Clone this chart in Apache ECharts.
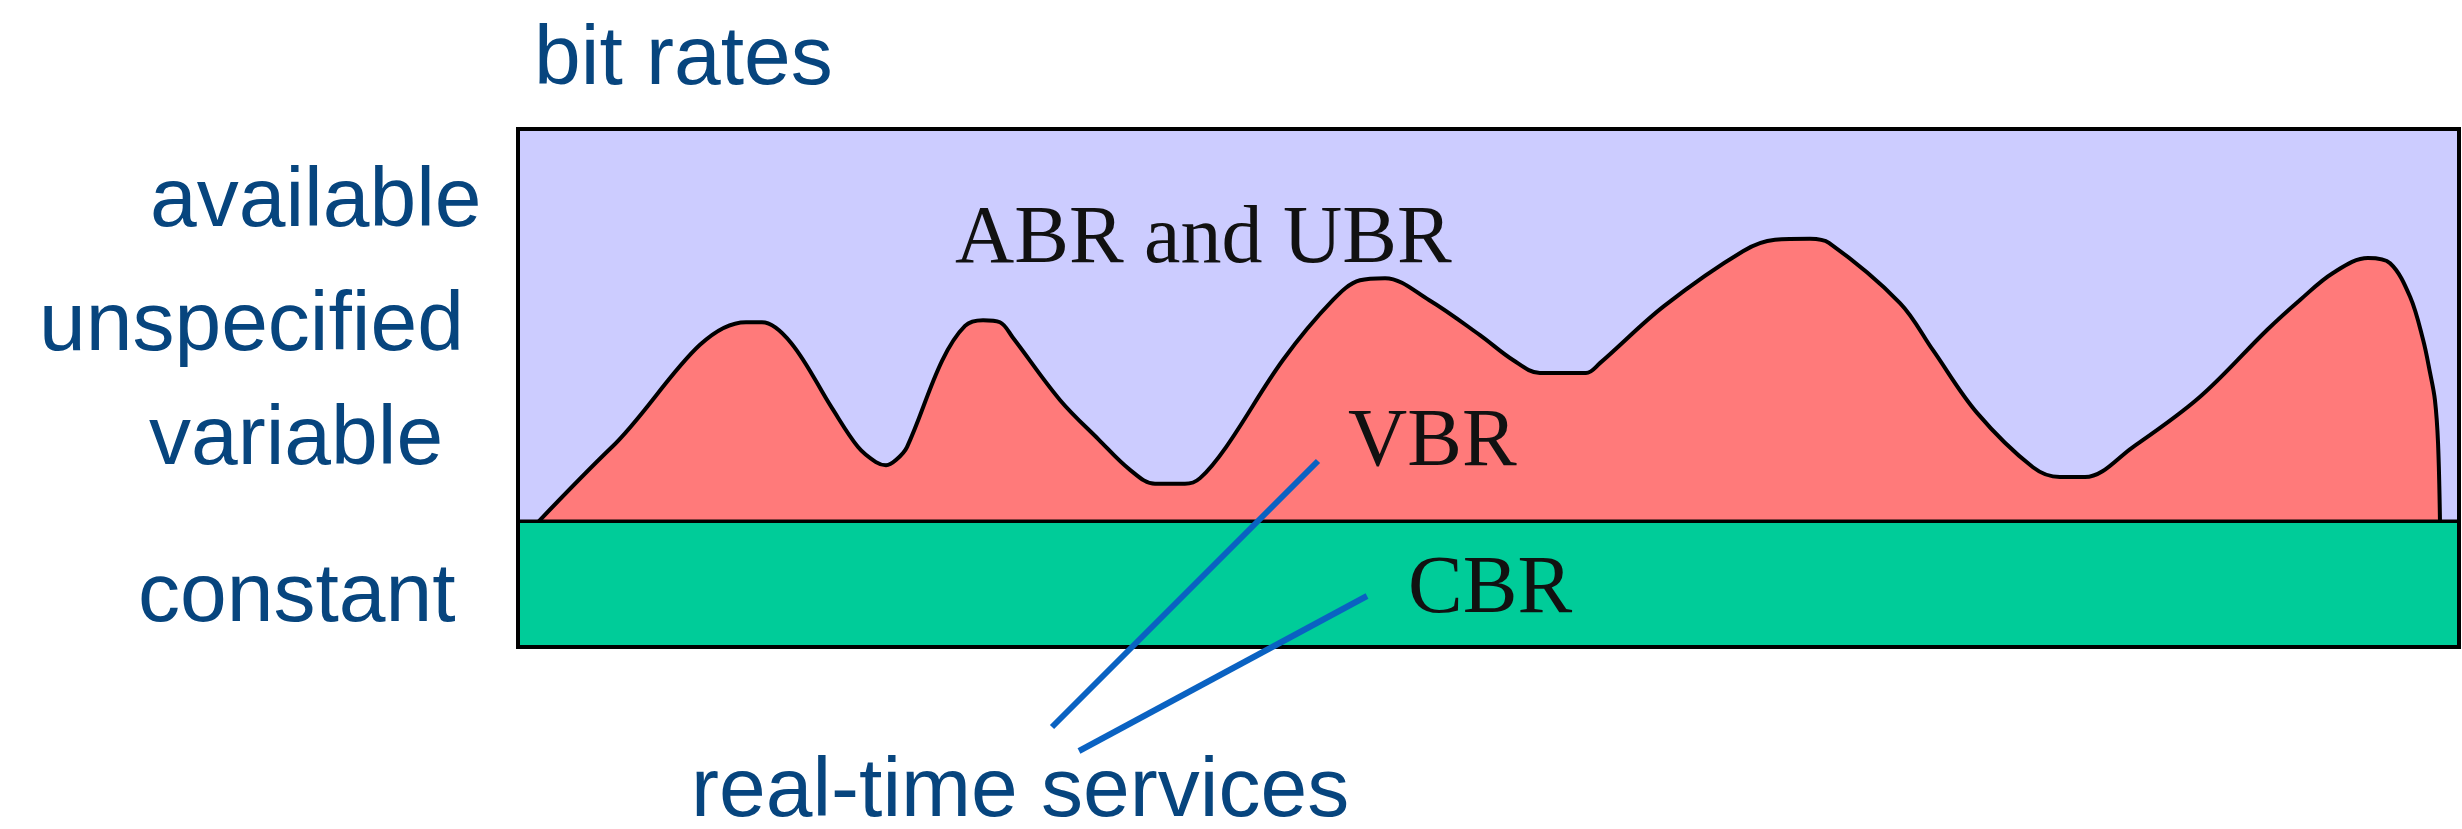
<!DOCTYPE html>
<html>
<head>
<meta charset="utf-8">
<script src="https://cdn.jsdelivr.net/npm/echarts@6/dist/echarts.min.js"></script>
<style>
  html, body { margin: 0; padding: 0; background: #ffffff; }
  #chart { width: 2462px; height: 829px; }
</style>
</head>
<body>
<div id="chart"></div>
<script>
// ---- data ----
const axisTitle = 'bit rates';
const categoryLabels = ['available', 'unspecified', 'variable', 'constant'];
const serviceLabels = ['ABR and UBR', 'VBR', 'CBR'];
const annotationText = 'real-time services';

// time axis (0..100) and bit rate axis (0..100)
const xMin = 0, xMax = 100, yMin = 0, yMax = 100;
const availableRate = 100;   // ABR/UBR fills up to the link capacity
const cbrRate = 24.3;        // constant bit rate level

// VBR outline: time and bit rate
const vbrTime = [1.08, 4.84, 11.75, 12.57, 14.07, 16.18, 17.52, 18.44, 18.96, 19.47, 20.04, 21.84, 23.03, 23.96, 24.83, 25.50, 27.92, 29.93, 31.53, 32.82, 34.36, 35.14, 36.48, 39.41, 41.99, 43.38, 44.67, 46.93, 49.56, 51.26, 52.65, 55.02, 55.74, 59.04, 63.11, 64.76, 66.56, 67.54, 71.20, 72.90, 75.17, 78.05, 79.44, 80.73, 83.20, 86.66, 90.11, 91.81, 93.51, 95.31, 96.45, 97.48, 98.15, 98.51, 98.76, 98.92, 99.02];
const vbrRate = [24.3, 38.6, 62.7, 62.7, 58.7, 46.1, 38.6, 35.7, 35.1, 36.1, 38.6, 55.2, 62.0, 63.1, 62.7, 59.7, 47.7, 40.0, 34.2, 31.5, 31.5, 32.6, 38.6, 55.4, 67.0, 70.8, 71.2, 67.0, 60.2, 55.4, 52.9, 52.9, 54.8, 65.8, 76.4, 78.6, 78.8, 78.0, 66.4, 57.3, 45.2, 34.7, 32.8, 32.8, 38.6, 48.3, 61.2, 67.0, 72.2, 75.1, 74.1, 67.6, 59.3, 52.9, 47.7, 39.4, 24.3];

// ---- build ----
const vbrData = vbrTime.map((t, i) => [t, vbrRate[i]]);
const abrData = [[xMin, availableRate], [xMax, availableRate]];
const cbrData = [[xMin, cbrRate], [xMax, cbrRate]];

const blue = '#07457e';
const sans = '"Liberation Sans", Arial, sans-serif';
const serif = '"Liberation Serif", "Times New Roman", serif';

function txt(str, x, baseline, size, color, family) {
  return {
    type: 'text', x: x, y: baseline - size * 0.30, z: 100,
    style: { text: str, fill: color, font: size + 'px ' + family, textAlign: 'left', textVerticalAlign: 'middle', verticalAlign: 'middle' }
  };
}

const chart = echarts.init(document.getElementById('chart'));
chart.setOption({
  animation: false,
  backgroundColor: '#ffffff',
  grid: { left: 518, top: 129, right: 3, bottom: 182, show: true, z: 10, borderColor: '#000', borderWidth: 4, backgroundColor: 'transparent' },
  xAxis: { type: 'value', min: xMin, max: xMax, show: false },
  yAxis: { type: 'value', min: yMin, max: yMax, show: false },
  series: [
    { name: serviceLabels[0], type: 'line', data: abrData, symbol: 'none', lineStyle: { width: 0 }, areaStyle: { color: '#ccccff', opacity: 1 }, z: 1 },
    { name: serviceLabels[1], type: 'line', data: vbrData, symbol: 'none', smooth: 0.35, lineStyle: { color: '#000', width: 4 }, areaStyle: { color: '#ff7a7a', opacity: 1 }, z: 2 },
    { name: serviceLabels[2], type: 'line', data: cbrData, symbol: 'none', lineStyle: { color: '#000', width: 3.5 }, areaStyle: { color: '#00cc99', opacity: 1 }, z: 3 }
  ],
  graphic: [
    txt(axisTitle, 534, 86, 84, blue, sans),
    txt(categoryLabels[0], 150, 228, 84, blue, sans),
    txt(categoryLabels[1], 39, 352, 84, blue, sans),
    txt(categoryLabels[2], 149, 466, 84, blue, sans),
    txt(categoryLabels[3], 138, 623, 84, blue, sans),
    txt(annotationText, 691, 818, 84, blue, sans),
    txt(serviceLabels[0], 955, 265, 82, '#111', serif),
    txt(serviceLabels[1], 1348, 468, 82, '#111', serif),
    txt(serviceLabels[2], 1408, 615, 82, '#111', serif),
    { type: 'line', z: 100, shape: { x1: 1052, y1: 727, x2: 1318, y2: 461 }, style: { stroke: '#0a62c2', lineWidth: 6 } },
    { type: 'line', z: 100, shape: { x1: 1079, y1: 751, x2: 1367, y2: 596 }, style: { stroke: '#0a62c2', lineWidth: 6 } }
  ]
});
</script>
</body>
</html>
